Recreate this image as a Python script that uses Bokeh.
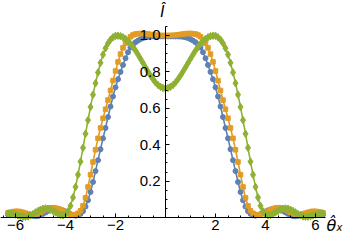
from bokeh.plotting import figure
from bokeh.models import FixedTicker, Range1d, Label, ColumnDataSource
from bokeh.embed import file_html
from bokeh.resources import INLINE

# angle grid (step 0.1)
theta = [round(0.1 * k, 1) for k in range(-63, 64)]

blue = [0.016, 0.019, 0.022, 0.025, 0.026, 0.026, 0.024, 0.021, 0.017, 0.013,
        0.009, 0.007, 0.008, 0.013, 0.020, 0.028, 0.036, 0.042, 0.046, 0.048,
        0.047, 0.044, 0.039, 0.033, 0.026, 0.019, 0.013, 0.010, 0.012, 0.020,
        0.035, 0.060, 0.095, 0.140, 0.195, 0.255, 0.315, 0.375, 0.435, 0.492,
        0.552, 0.610, 0.665, 0.715, 0.760, 0.800, 0.838, 0.875, 0.908, 0.934,
        0.951, 0.963, 0.972, 0.980, 0.986, 0.990, 0.993, 0.994, 0.995, 0.995,
        0.995, 0.995, 0.995,
        0.995,
        0.995, 0.995, 0.995, 0.995, 0.995, 0.994, 0.993, 0.990, 0.986, 0.980,
        0.972, 0.963, 0.951, 0.934, 0.908, 0.875, 0.838, 0.800, 0.760, 0.715,
        0.665, 0.610, 0.552, 0.492, 0.435, 0.375, 0.315, 0.255, 0.195, 0.140,
        0.095, 0.060, 0.035, 0.020, 0.012, 0.010, 0.013, 0.019, 0.026, 0.033,
        0.039, 0.044, 0.047, 0.048, 0.046, 0.042, 0.036, 0.028, 0.020, 0.013,
        0.008, 0.007, 0.009, 0.013, 0.017, 0.021, 0.024, 0.026, 0.026, 0.025,
        0.022, 0.019, 0.016]

orange = [0.026, 0.029, 0.032, 0.034, 0.034, 0.032, 0.028, 0.024, 0.019, 0.016,
          0.015, 0.017, 0.022, 0.029, 0.037, 0.044, 0.050, 0.053, 0.054, 0.052,
          0.048, 0.042, 0.035, 0.028, 0.021, 0.016, 0.014, 0.016, 0.023, 0.037,
          0.064, 0.108, 0.168, 0.235, 0.305, 0.372, 0.435, 0.492, 0.545, 0.595,
          0.645, 0.698, 0.752, 0.805, 0.855, 0.898, 0.932, 0.958, 0.978, 0.993,
          1.003, 1.008, 1.010, 1.011, 1.011, 1.010, 1.008, 1.006, 1.004, 1.002,
          1.001, 1.000, 1.000,
          1.000,
          1.000, 1.000, 1.001, 1.002, 1.004, 1.006, 1.008, 1.010, 1.011, 1.011,
          1.010, 1.008, 1.003, 0.993, 0.978, 0.958, 0.932, 0.898, 0.855, 0.805,
          0.752, 0.698, 0.645, 0.595, 0.545, 0.492, 0.435, 0.372, 0.305, 0.235,
          0.168, 0.108, 0.064, 0.037, 0.023, 0.016, 0.014, 0.016, 0.021, 0.028,
          0.035, 0.042, 0.048, 0.052, 0.054, 0.053, 0.050, 0.044, 0.037, 0.029,
          0.022, 0.017, 0.015, 0.016, 0.019, 0.024, 0.028, 0.032, 0.034, 0.034,
          0.032, 0.029, 0.026]

green = [0.022, 0.021, 0.019, 0.016, 0.012, 0.008, 0.005, 0.004, 0.006, 0.012,
         0.019, 0.028, 0.036, 0.043, 0.048, 0.050, 0.048, 0.043, 0.036, 0.028,
         0.020, 0.014, 0.012, 0.018, 0.034, 0.064, 0.110, 0.168, 0.235, 0.307,
         0.383, 0.460, 0.535, 0.607, 0.675, 0.738, 0.797, 0.850, 0.895, 0.930,
         0.957, 0.977, 0.990, 0.998, 0.999, 0.996, 0.990, 0.981, 0.969, 0.954,
         0.937, 0.917, 0.895, 0.872, 0.849, 0.825, 0.802, 0.780, 0.760, 0.742,
         0.728, 0.718, 0.712,
         0.710,
         0.712, 0.718, 0.728, 0.742, 0.760, 0.780, 0.802, 0.825, 0.849, 0.872,
         0.895, 0.917, 0.937, 0.954, 0.969, 0.981, 0.990, 0.996, 0.999, 0.998,
         0.990, 0.977, 0.957, 0.930, 0.895, 0.850, 0.797, 0.738, 0.675, 0.607,
         0.535, 0.460, 0.383, 0.307, 0.235, 0.168, 0.110, 0.064, 0.034, 0.018,
         0.012, 0.014, 0.020, 0.028, 0.036, 0.043, 0.048, 0.050, 0.048, 0.043,
         0.036, 0.028, 0.019, 0.012, 0.006, 0.004, 0.005, 0.008, 0.012, 0.016,
         0.019, 0.021, 0.022]

x_ticks = [-6, -4, -2, 2, 4, 6]
x_tick_labels = ["\u22126", "\u22124", "\u22122", "2", "4", "6"]
y_ticks = [0.2, 0.4, 0.6, 0.8, 1.0]
y_tick_labels = ["0.2", "0.4", "0.6", "0.8", "1.0"]

assert len(theta) == len(blue) == len(orange) == len(green)

BLUE = "#5E81B5"
ORANGE = "#E19C24"
GREEN = "#8FB032"

p = figure(width=344, height=234,
           x_range=Range1d(-6.6, 7.16), y_range=Range1d(-0.0934, 1.1923),
           output_backend="svg", toolbar_location=None,
           min_border_left=0, min_border_right=0,
           min_border_top=0, min_border_bottom=0)
p.outline_line_color = None
p.grid.visible = False
p.background_fill_color = "white"
p.border_fill_color = "white"

src = ColumnDataSource(dict(x=theta, b=blue, o=orange, g=green))

p.line("x", "b", source=src, line_color=BLUE, line_width=1.6)
p.scatter("x", "b", source=src, marker="circle", size=5, fill_color=BLUE, line_color=BLUE)
p.line("x", "o", source=src, line_color=ORANGE, line_width=1.6)
p.scatter("x", "o", source=src, marker="square", size=4.5, fill_color=ORANGE, line_color=ORANGE)
p.line("x", "g", source=src, line_color=GREEN, line_width=1.6)
p.scatter("x", "g", source=src, marker="diamond", size=7.5, fill_color=GREEN, line_color=GREEN)

xa = p.xaxis[0]
xa.fixed_location = 0
xa.ticker = FixedTicker(ticks=x_ticks, minor_ticks=[0.5 * k for k in range(-13, 13)])
xa.major_label_overrides = dict(zip(x_ticks, x_tick_labels))
xa.bounds = (-6.6, 6.4)

ya = p.yaxis[0]
ya.fixed_location = 0
ya.ticker = FixedTicker(ticks=y_ticks, minor_ticks=[round(0.05 * k, 2) for k in range(1, 22)])
ya.major_label_overrides = dict(zip(y_ticks, y_tick_labels))
ya.bounds = (0, 1.05)

for ax in (xa, ya):
    ax.axis_line_color = "black"
    ax.axis_line_width = 1
    ax.major_tick_line_color = "black"
    ax.minor_tick_line_color = "black"
    ax.major_tick_in = 4
    ax.major_tick_out = 0
    ax.minor_tick_in = 2
    ax.minor_tick_out = 0
    ax.major_label_text_font = "Liberation Sans"
    ax.major_label_text_font_size = "15px"
    ax.major_label_text_color = "black"
xa.major_label_standoff = 2
ya.major_label_standoff = 5

p.add_layout(Label(x=-0.12, y=1.181, text="\u00ce", text_font="DejaVu Sans",
                   text_font_style="italic", text_font_size="15px",
                   text_align="center", text_baseline="top", text_color="black"))
p.add_layout(Label(x=6.44, y=-0.044, text="\u03b8\u0302", text_font="DejaVu Sans",
                   text_font_style="italic", text_font_size="16px",
                   text_align="left", text_baseline="alphabetic", text_color="black"))
p.add_layout(Label(x=6.84, y=-0.055, text="x", text_font="DejaVu Sans",
                   text_font_style="italic", text_font_size="10px",
                   text_align="left", text_baseline="alphabetic", text_color="black"))

open("out.html", "w").write(file_html(p, INLINE))
